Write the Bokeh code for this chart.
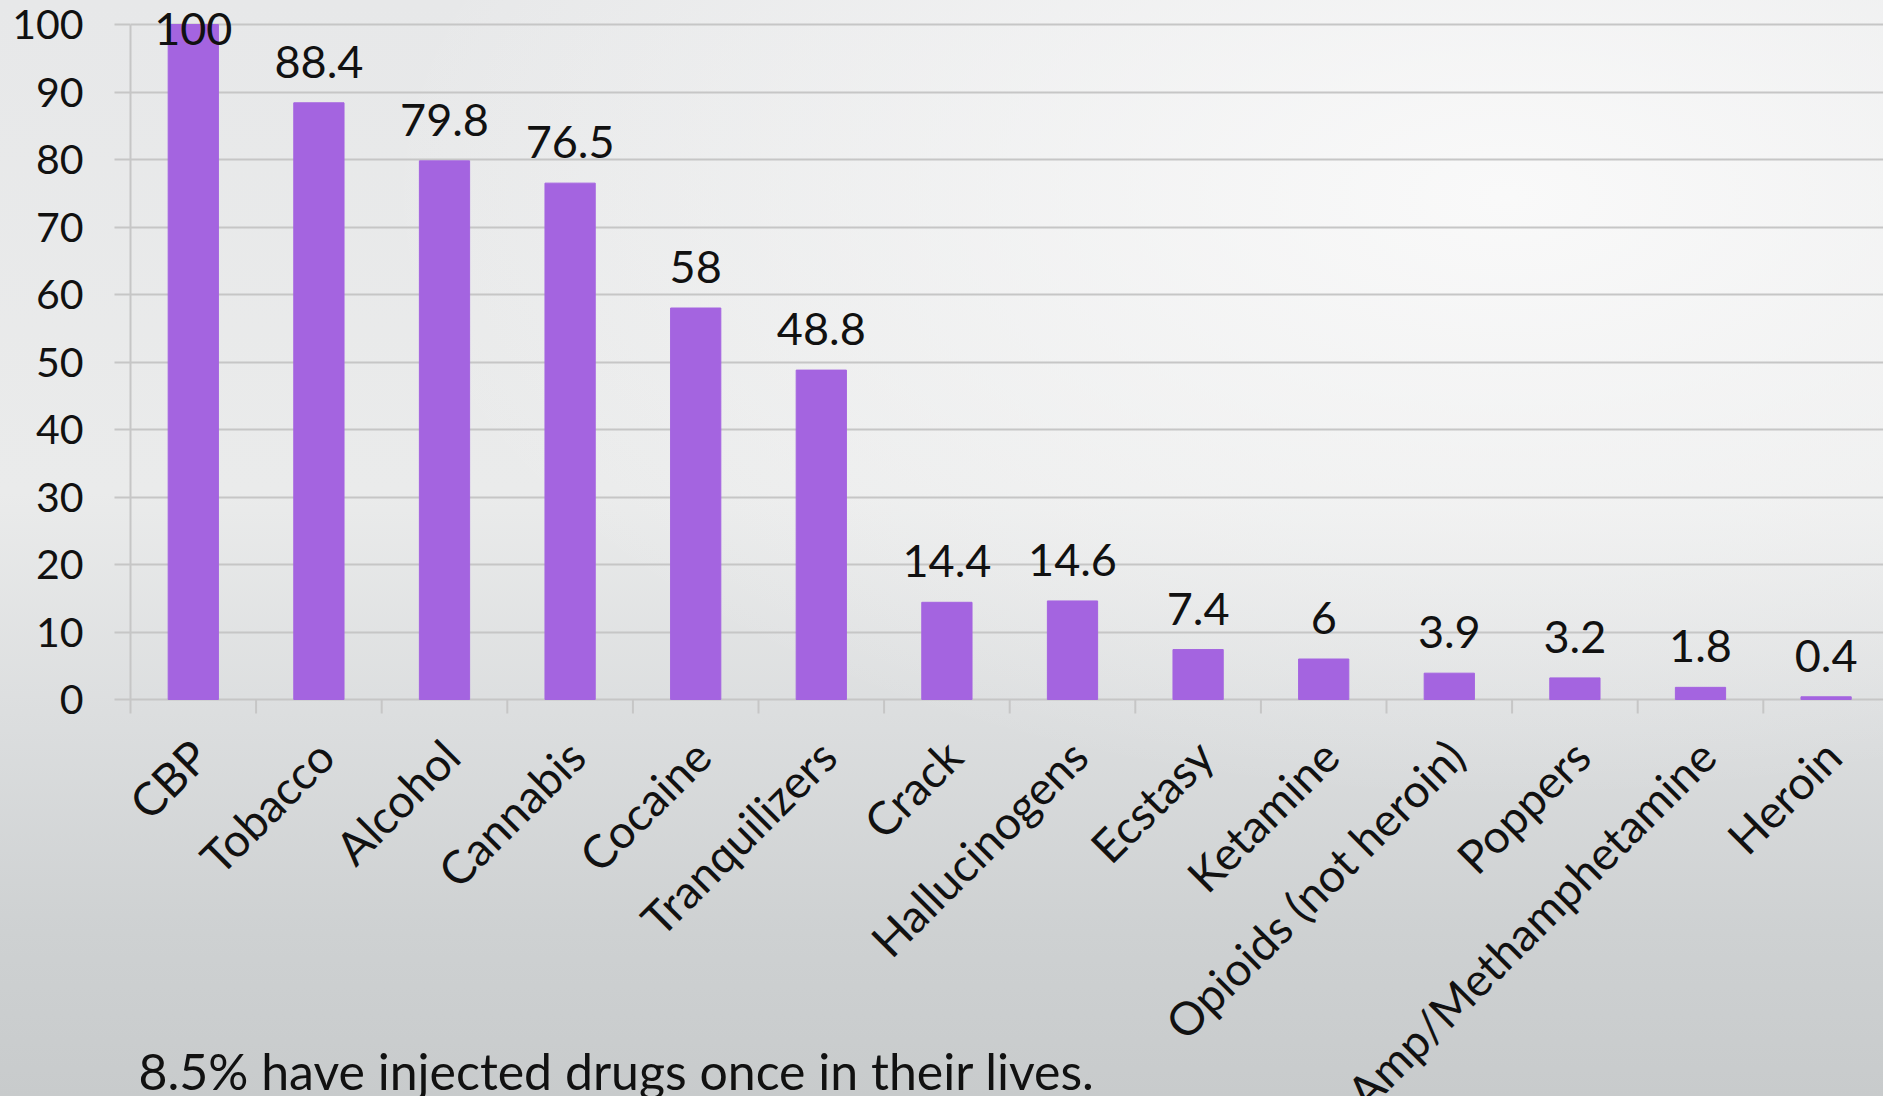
import math
from bokeh.plotting import figure
from bokeh.models import (ColumnDataSource, FixedTicker, Range1d, LabelSet, Label,
                          InlineStyleSheet)
from bokeh.core.properties import value
from bokeh.embed import file_html
from bokeh.resources import INLINE

categories = ["CBP", "Tobacco", "Alcohol", "Cannabis", "Cocaine", "Tranquilizers",
              "Crack", "Hallucinogens", "Ecstasy", "Ketamine", "Opioids (not heroin)",
              "Poppers", "Amp/Methamphetamine", "Heroin"]
values = [100, 88.4, 79.8, 76.5, 58, 48.8, 14.4, 14.6, 7.4, 6, 3.9, 3.2, 1.8, 0.4]
value_labels = ["100", "88.4", "79.8", "76.5", "58", "48.8", "14.4", "14.6",
                "7.4", "6", "3.9", "3.2", "1.8", "0.4"]
y_ticks = [0, 10, 20, 30, 40, 50, 60, 70, 80, 90, 100]
footnote = "8.5% have injected drugs once in their lives."

FONT = "Lato"
W, H = 1883, 1096
LEFT = 130          # frame left edge (px)
CAT_PX = 125.6      # width of one category (px)
UNIT_PX = 6.75      # px per y unit
ZERO_Y = 699        # page y of value 0
TOP_Y = 24          # page y of value 100
TICK_PX = 14        # category boundary tick length

x_end = (W - LEFT) / CAT_PX
y_end = 100 + TOP_Y / UNIT_PX
y_start = -(H - ZERO_Y) / UNIT_PX
tick_len = TICK_PX / UNIT_PX

n = len(categories)
centers = [i + 0.5 for i in range(n)]
offsets = [25 if v < 95 else -20 for v in values]
src = ColumnDataSource(dict(x=centers, top=values, label=value_labels, off=offsets,
                            cat=categories, base=[0] * n))
bounds = list(range(1, n + 1))
tsrc = ColumnDataSource(dict(x=bounds, y0=[0] * n, y1=[-tick_len] * n))

p = figure(width=W, height=H, output_backend="svg", toolbar_location=None,
           x_range=Range1d(0, x_end), y_range=Range1d(y_start, y_end),
           x_axis_location=None,
           min_border_left=LEFT, min_border_right=0, min_border_top=0,
           min_border_bottom=0)
p.background_fill_color = None
p.border_fill_color = None
p.outline_line_color = None
p.stylesheets = [InlineStyleSheet(css=""":host {
  background:
    radial-gradient(ellipse 60% 55% at 80% 18%, rgba(250,250,250,0.95) 0%, rgba(250,250,250,0) 100%),
    linear-gradient(to bottom, #E7E8E9 0%, #EAEBEB 45%, #DCDEDF 65%, #CED1D2 85%, #C8CBCC 100%);
}""")]

GRID = "#C6C6C6"

p.vbar(x="x", top="top", width=0.4, source=src, fill_color="#A464E0",
       line_color="#A464E0")

# category boundary ticks below the zero line
p.segment(x0="x", y0="y0", x1="x", y1="y1", source=tsrc, line_color=GRID,
          line_width=2)

p.add_layout(LabelSet(x="x", y="top", text="label", y_offset="off", source=src,
                      text_align="center", text_baseline="alphabetic",
                      text_font=value(FONT), text_font_size=value("45px"),
                      text_color="#111111"))

# rotated category labels
p.text(x="x", y="base", text="cat", source=src, angle=math.pi / 4,
       text_align="right", text_baseline="top", x_offset=-13, y_offset=29,
       text_font=value(FONT), text_font_size=value("46px"), text_color="#111111")

p.xgrid.visible = False
p.ygrid.grid_line_color = GRID
p.ygrid.grid_line_width = 2
p.ygrid.ticker = FixedTicker(ticks=y_ticks)

yax = p.yaxis[0]
yax.ticker = FixedTicker(ticks=y_ticks)
yax.bounds = (-tick_len, 100)
yax.axis_line_color = GRID
yax.axis_line_width = 2
yax.major_tick_line_color = GRID
yax.major_tick_line_width = 2
yax.major_tick_out = 16
yax.major_tick_in = 0
yax.minor_tick_line_color = None
yax.major_label_standoff = 31
yax.major_label_text_font = FONT
yax.major_label_text_font_size = "41px"
yax.major_label_text_color = "#111111"

p.add_layout(Label(x=8 / CAT_PX, y=-(1070 - ZERO_Y) / UNIT_PX, text=footnote,
                   text_font=FONT, text_font_size="50px", text_color="#111111",
                   text_baseline="alphabetic", text_align="left"))

open("out.html", "w").write(file_html(p, INLINE))
